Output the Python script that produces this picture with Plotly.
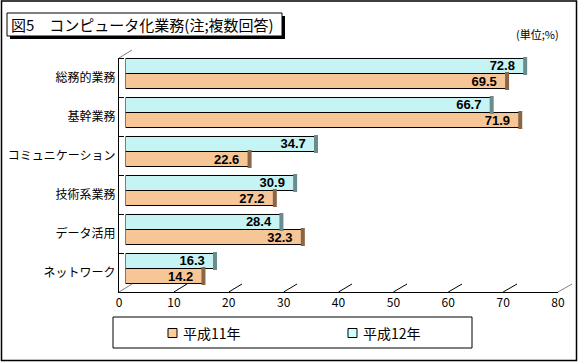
import plotly.graph_objects as go

# ---- data ----
categories = ["総務的業務", "基幹業務", "コミュニケーション", "技術系業務", "データ活用", "ネットワーク"]
h11 = [69.5, 71.9, 22.6, 27.2, 32.3, 14.2]
h12 = [72.8, 66.7, 34.7, 30.9, 28.4, 16.3]
series_names = ["平成11年", "平成12年"]
xticks = [0, 10, 20, 30, 40, 50, 60, 70, 80]
title_text = "図5　コンピュータ化業務(注;複数回答)"
unit_text = "(単位;%)"

W, H = 579, 362


def fx(px):
    return px / W


def fy(py):
    return 1 - py / H


# pixel geometry of the pseudo-3D box
BACK_X, BACK_Y = (132, 572), (50, 284)
BAR_X, BAR_Y = (125.5, 564.7), (54, 288)
FRONT_X, FRONT_Y = (119, 558), (58, 292)

ORANGE = "#F7C696"
CYAN = "#C6F3F3"
ORANGE_CAP = "#8A6648"
CYAN_CAP = "#6A8C8C"
LEG_COLORS = ["#FFCC99", "#CCFFFF"]
JP = "Noto Sans CJK JP"

fig = go.Figure()

for name, vals, col in [(series_names[1], h12, CYAN), (series_names[0], h11, ORANGE)]:
    fig.add_trace(go.Bar(
        x=vals, y=categories, orientation="h", name=name,
        marker=dict(color=col, line=dict(color="black", width=1)),
        text=[f"{v:.1f}\u00a0\u00a0" for v in vals], textposition="inside",
        insidetextanchor="end", constraintext="none",
        textfont=dict(family="Liberation Sans", size=13, color="black", weight="bold"),
        xaxis="x2", yaxis="y2", showlegend=False,
        hoverinfo="skip",
    ))

# cylinder end caps
for vals, capcol in [(h12, CYAN_CAP), (h11, ORANGE_CAP)]:
    fig.add_trace(go.Scatter(
        x=vals, y=categories, orientation="h", mode="markers",
        marker=dict(symbol="line-ns", size=13, line=dict(color=capcol, width=4)),
        xaxis="x2", yaxis="y2", showlegend=False, hoverinfo="skip",
    ))

axis_common = dict(showgrid=False, zeroline=False, ticks="", automargin=False)

fig.update_layout(
    width=W, height=H, autosize=False,
    margin=dict(l=0, r=0, t=0, b=0, pad=0),
    paper_bgcolor="white", plot_bgcolor="rgba(0,0,0,0)",
    barmode="group", bargap=0.23, bargroupgap=0,
    scattermode="group", scattergap=0.23,
    uniformtext=dict(mode=False),
    font=dict(family=JP, size=12, color="black"),
    showlegend=False,
    # back wall
    xaxis=dict(domain=[fx(BACK_X[0]), fx(BACK_X[1])], range=[0, 80], anchor="y",
               showgrid=True, gridcolor="black", gridwidth=1, tickvals=xticks[1:-1],
               showticklabels=False, zeroline=False, ticks="", automargin=False,
               showline=True, linecolor="#808080", linewidth=1, mirror=True),
    yaxis=dict(domain=[fy(BACK_Y[1]), fy(BACK_Y[0])], range=[0, 1], anchor="x",
               showgrid=False, zeroline=False, showticklabels=False, ticks="", automargin=False,
               showline=True, linecolor="#808080", linewidth=1, mirror=True),
    # bars
    xaxis2=dict(domain=[fx(BAR_X[0]), fx(BAR_X[1])], range=[0, 80], anchor="y2",
                visible=False, **axis_common),
    yaxis2=dict(domain=[fy(BAR_Y[1]), fy(BAR_Y[0])], anchor="x2", type="category",
                categoryorder="array", categoryarray=categories,
                autorange="reversed", visible=False, **axis_common),
    # front plane
    xaxis3=dict(domain=[fx(FRONT_X[0]), fx(FRONT_X[1])], range=[0, 80], anchor="y3",
                tickvals=xticks, showline=True, linecolor="black", linewidth=1,
                tickfont=dict(size=12, family=JP), **axis_common),
    yaxis3=dict(domain=[fy(FRONT_Y[1]), fy(FRONT_Y[0])], anchor="x3",
                range=[len(categories) - 0.5, -0.5],
                tickvals=list(range(len(categories))), ticktext=categories,
                showline=True, linecolor="black", linewidth=1,
                tickfont=dict(size=12, family=JP),
                minor=dict(tick0=0.5, dtick=1, ticks="inside", ticklen=5,
                           tickcolor="black", showgrid=False),
                **axis_common),
)

# invisible trace to activate the front-plane subplot
fig.add_trace(go.Scatter(x=[None], y=[None], xaxis="x3", yaxis="y3",
                         showlegend=False, hoverinfo="skip"))

shapes = []
# outer frame
shapes.append(dict(type="rect", xref="paper", yref="paper", x0=fx(1.5), x1=fx(576.5),
                   y0=fy(360.5), y1=fy(1), line=dict(color="black", width=1.5)))
# title box with shadow
shapes.append(dict(type="rect", xref="paper", yref="paper", x0=fx(10), x1=fx(285),
                   y0=fy(39), y1=fy(16), fillcolor="black", line=dict(width=0)))
shapes.append(dict(type="rect", xref="paper", yref="paper", x0=fx(7), x1=fx(282),
                   y0=fy(36), y1=fy(13), fillcolor="white", line=dict(color="black", width=1)))
# legend box
shapes.append(dict(type="rect", xref="paper", yref="paper", x0=fx(113), x1=fx(472),
                   y0=fy(348), y1=fy(317), line=dict(color="black", width=1)))
# legend entries (swatch + label)
for i, (nm, c) in enumerate(zip(series_names, LEG_COLORS)):
    x_sq = 168 + 180 * i
    shapes.append(dict(type="rect", xref="paper", yref="paper", x0=fx(x_sq), x1=fx(x_sq + 9),
                       y0=fy(337.5), y1=fy(328.5), fillcolor=c,
                       line=dict(color="black", width=1)))
    fig.add_annotation(text=nm, xref="paper", yref="paper", x=fx(x_sq + 13), y=fy(332.5),
                       xanchor="left", yanchor="middle", showarrow=False,
                       font=dict(family=JP, size=14, color="black"))


def front_px(v):
    return FRONT_X[0] + (FRONT_X[1] - FRONT_X[0]) * v / 80


def back_px(v):
    return BACK_X[0] + (BACK_X[1] - BACK_X[0]) * v / 80


# floor depth ticks
for v in xticks:
    col = "#808080" if v in (xticks[0], xticks[-1]) else "black"
    shapes.append(dict(type="line", xref="paper", yref="paper",
                       x0=fx(front_px(v)), y0=fy(FRONT_Y[1]),
                       x1=fx(back_px(v)), y1=fy(BACK_Y[1]),
                       line=dict(color=col, width=1)))
# top-left depth edge
shapes.append(dict(type="line", xref="paper", yref="paper",
                   x0=fx(FRONT_X[0]), y0=fy(FRONT_Y[0]), x1=fx(BACK_X[0]), y1=fy(BACK_Y[0]),
                   line=dict(color="#808080", width=1)))
fig.update_layout(shapes=shapes)

fig.add_annotation(text=title_text, xref="paper", yref="paper", x=fx(9), y=fy(24.5),
                   xanchor="left", yanchor="middle", showarrow=False,
                   font=dict(family=JP, size=15, color="black"))
fig.add_annotation(text=unit_text, xref="paper", yref="paper", x=fx(561), y=fy(34),
                   xanchor="right", yanchor="middle", showarrow=False,
                   font=dict(family=JP, size=11, color="black"))

fig.write_html(
    "out.html",
    config={"displayModeBar": False, "responsive": False, "staticPlot": True},
    post_script=(
        "var h=document.documentElement,b=document.body;"
        "h.style.margin='0';h.style.padding='0';h.style.overflow='hidden';"
        "b.style.margin='0';b.style.padding='0';b.style.overflow='hidden';"
    ),
)
